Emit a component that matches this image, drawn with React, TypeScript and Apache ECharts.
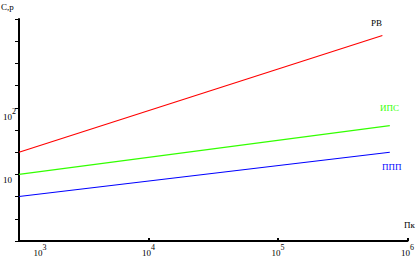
import React, { useEffect, useRef } from "react";
import * as echarts from "echarts";

const xTickLabels = ["10^3", "10^4", "10^5", "10^6"];
const yTickLabels = ["10", "10^2"];
const seriesNames = ["РВ", "ИПС", "ППП"];
const seriesColors = ["#ff0000", "#33ff00", "#0000ff"];
const pkValues = [
  [1000, 640000],
  [1000, 730000],
  [1000, 730000],
];
const rvValues = [21.5, 1217];
const ipsValues = [10, 54];
const pppValues = [4.66, 21.5];

const FONT = "'Liberation Serif', 'DejaVu Serif', serif";

export default function App() {
  const ref = useRef<HTMLDivElement>(null);
  useEffect(() => {
    if (!ref.current) return;
    const chart = echarts.init(ref.current, null, { renderer: "svg" });
    const allY = [rvValues, ipsValues, pppValues];
    const series = allY.map((ys, i) => ({
      type: "line",
      name: seriesNames[i],
      data: ys.map((y, j) => [pkValues[i][j], y]),
      showSymbol: false,
      lineStyle: { color: seriesColors[i], width: 1.2 },
      itemStyle: { color: seriesColors[i] },
      xAxisIndex: 0,
      yAxisIndex: 0,
    }));
    const rich = {
      b: { fontSize: 9, fontFamily: FONT, color: "#000", verticalAlign: "bottom", lineHeight: 10 },
      s: { fontSize: 8, fontFamily: FONT, color: "#000", padding: [0, 0, 6, 0], verticalAlign: "top" },
      sp: { width: 42, fontSize: 9 },
    };
    const fmtPow = (label: string) => {
      const parts = label.split("^");
      if (parts.length === 1) return "{b|" + parts[0] + "}";
      return "{b|" + parts[0] + "}{s|" + parts[1] + "}";
    };
    chart.setOption({
      animation: false,
      grid: { left: 18, top: 19, width: 390, height: 223, containLabel: false },
      xAxis: {
        type: "log",
        logBase: 10,
        min: 1000,
        max: 1000000,
        axisLine: { show: true, lineStyle: { color: "#000", width: 2 } },
        axisTick: { show: true, inside: true, length: 3, lineStyle: { color: "#000", width: 2 } },
        splitLine: { show: false },
        minorTick: { show: false },
        axisLabel: {
          show: true,
          margin: 2,
          showMinLabel: true,
          showMaxLabel: true,
          hideOverlap: false,
          formatter: (v: number) => {
            const e = Math.round(Math.log10(v));
            const lbl = xTickLabels.find((t) => t === "10^" + e);
            if (!lbl) return "";
            const s = fmtPow(lbl);
            return e === 3 ? "{sp| }" + s : s;
          },
          rich,
        },
      },
      yAxis: [
        {
          type: "log",
          logBase: 10,
          min: 1,
          max: Math.pow(10, 10 / 3),
          axisLine: { show: true, lineStyle: { color: "#000", width: 2 } },
          axisTick: { show: false },
          splitLine: { show: false },
          axisLabel: {
            show: true,
            align: "left",
            verticalAlign: "top",
            margin: 16,
            showMinLabel: true,
            showMaxLabel: true,
            formatter: (v: number) => {
              const e = Math.round(Math.log10(v));
              const lbl = yTickLabels.find((t) => t === (e === 1 ? "10" : "10^" + e));
              return lbl ? fmtPow(lbl) : "";
            },
            rich,
          },
        },
        {
          type: "value",
          min: 0,
          max: 10,
          interval: 1,
          position: "left",
          axisLine: { show: false },
          axisTick: { show: true, length: 4, lineStyle: { color: "#000", width: 1 } },
          axisLabel: { show: false },
          splitLine: { show: false },
        },
      ],
      graphic: [
        { type: "text", left: 1, top: 2, style: { text: "С,р", fontSize: 9, fontFamily: FONT, fill: "#000" } },
        { type: "text", left: 404, top: 220, style: { text: "Пк", fontSize: 9, fontFamily: FONT, fill: "#000" } },
        { type: "text", left: 371, top: 18, style: { text: seriesNames[0], fontSize: 9, fontFamily: FONT, fill: "#000" } },
        { type: "text", left: 380, top: 103, style: { text: seriesNames[1], fontSize: 9, fontFamily: FONT, fill: seriesColors[1] } },
        { type: "text", left: 382, top: 162, style: { text: seriesNames[2], fontSize: 9, fontFamily: FONT, fill: seriesColors[2] } },
      ],
      series,
    });
    return () => chart.dispose();
  }, []);
  return (
    <div
      ref={ref}
      style={{ position: "fixed", left: 0, top: 0, width: 417, height: 257, background: "#fff" }}
    />
  );
}
